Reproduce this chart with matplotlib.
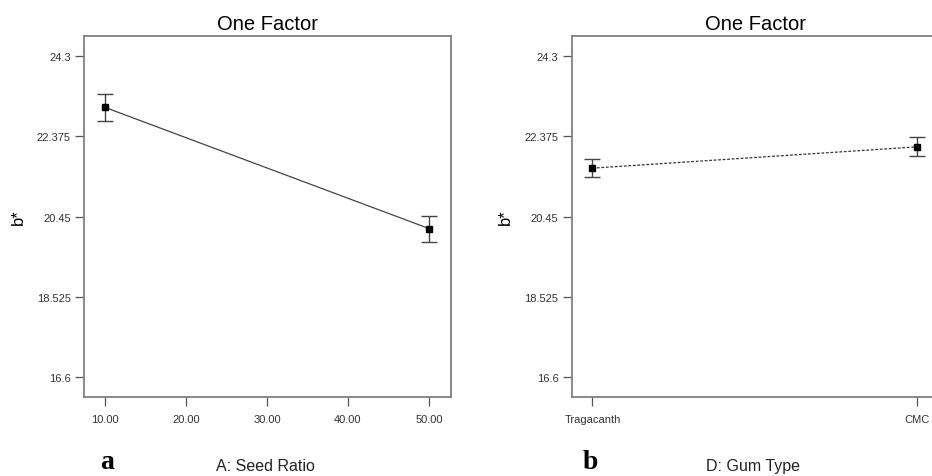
import matplotlib
matplotlib.use("Agg")
import matplotlib.pyplot as plt

plt.rcParams['font.family'] = ['Liberation Sans', 'DejaVu Sans']

# Data
seed_ratio = [10.0, 50.0]
seed_b = [23.07, 20.16]
seed_err = [0.32, 0.31]
seed_ticks = [10, 20, 30, 40, 50]
seed_ticklabels = ["10.00", "20.00", "30.00", "40.00", "50.00"]

gum_types = ["Tragacanth", "CMC"]
gum_b = [21.61, 22.12]
gum_err = [0.22, 0.23]

y_ticks = [16.6, 18.525, 20.45, 22.375, 24.3]
y_ticklabels = ["16.6", "18.525", "20.45", "22.375", "24.3"]

W, H = 932, 477
fig = plt.figure(figsize=(W / 100, H / 100), dpi=100)

spine_col = "#808080"

def style(ax):
    for s in ax.spines.values():
        s.set_color(spine_col)
        s.set_linewidth(1.3)
    ax.tick_params(axis='both', direction='out', length=6.5, width=0.9,
                   color="#555555", labelsize=8, labelcolor="#333333")
    ax.tick_params(axis='y', pad=3)
    ax.tick_params(axis='x', pad=6)
    ax.set_ylim(16.12, 24.78)
    ax.set_yticks(y_ticks)
    ax.set_yticklabels(y_ticklabels)
    ax.set_title("One Factor", fontsize=14.5, pad=5)
    ax.set_ylabel("b*", fontsize=12, labelpad=8)

ax1 = fig.add_axes([84 / W, (H - 398) / H, 367 / W, 361 / H])
ax1.errorbar(seed_ratio, seed_b, yerr=seed_err, color="#444444", lw=0.9,
             ecolor="#444444", elinewidth=1.0, capsize=5.5, capthick=1.0,
             marker='s', ms=5, mfc='black', mec='black')
ax1.set_xlim(7.45, 52.7)
ax1.set_xticks(seed_ticks)
ax1.set_xticklabels(seed_ticklabels)
style(ax1)

ax2 = fig.add_axes([571.7 / W, (H - 398) / H, 367 / W, 361 / H])
xpos = list(range(len(gum_types)))
ax2.errorbar(xpos, gum_b, yerr=gum_err, color="#333333", lw=0.9,
             linestyle=(0, (2.2, 1.4)),
             ecolor="#444444", elinewidth=1.0, capsize=5.5, capthick=1.0,
             marker='s', ms=5, mfc='black', mec='black')
ax2.set_xlim(-0.064, 1.068)
ax2.set_xticks(xpos)
ax2.set_xticklabels(gum_types)
style(ax2)

# axis labels and panel letters
fig.text(265 / W, 1 - 467 / H, "A: Seed Ratio", fontsize=11.5, ha='center',
         va='center', color="#222222")
fig.text(753 / W, 1 - 467 / H, "D: Gum Type", fontsize=11.5, ha='center',
         va='center', color="#222222")
fig.text(107 / W, 1.5 / H, "a", fontsize=20, fontweight='bold',
         family=['Liberation Serif', 'DejaVu Serif'], ha='center', va='bottom')
fig.text(590 / W, 1.5 / H, "b", fontsize=20, fontweight='bold',
         family=['Liberation Serif', 'DejaVu Serif'], ha='center', va='bottom')

fig.savefig("out.png", dpi=100)
